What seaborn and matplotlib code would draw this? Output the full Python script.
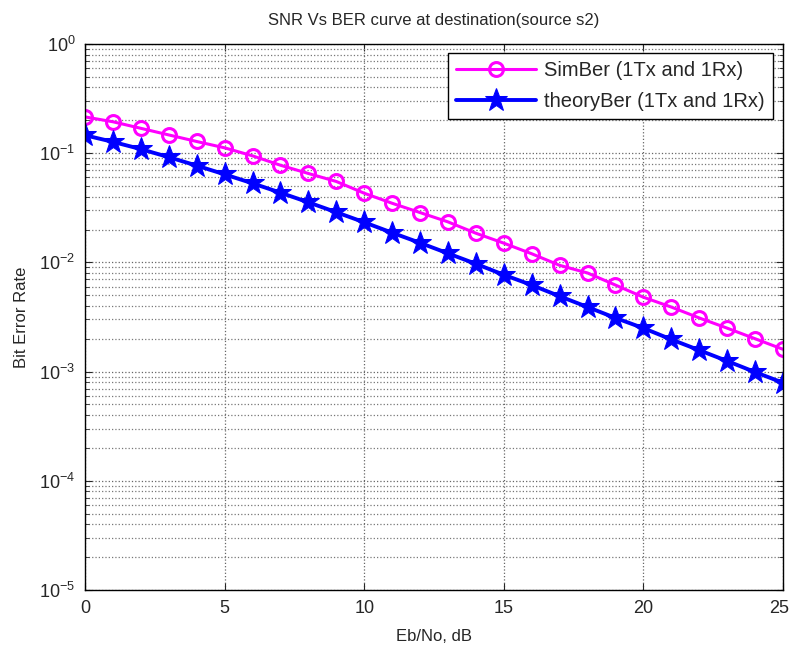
import numpy as np
import pandas as pd
import seaborn as sns
import matplotlib.pyplot as plt
from matplotlib.ticker import LogLocator, NullFormatter, MultipleLocator
from matplotlib.transforms import ScaledTranslation

snr_db = list(range(26))
sim_ber = [0.215, 0.194, 0.169, 0.147, 0.128, 0.112, 0.0946, 0.0776, 0.0652, 0.0551,
           0.0430, 0.0348, 0.0286, 0.0235, 0.0185, 0.0150, 0.0120, 0.0094, 0.0080, 0.0062,
           0.0048, 0.0039, 0.0031, 0.0025, 0.0020, 0.0016]
theory_ber = [0.146, 0.127, 0.109, 0.092, 0.077, 0.064, 0.053, 0.0435, 0.0355, 0.0288,
              0.0233, 0.0187, 0.0151, 0.0121, 0.0097, 0.0077, 0.0062, 0.0049, 0.0039, 0.0031,
              0.0025, 0.00197, 0.00157, 0.00125, 0.00099, 0.00079]
labels = ['SimBer (1Tx and 1Rx)', 'theoryBer (1Tx and 1Rx)']

sns.set_style('white')
plt.rcParams.update({
    'font.family': ['Liberation Sans', 'DejaVu Sans'],
    'font.size': 12,
    'mathtext.fontset': 'custom',
    'mathtext.rm': 'Liberation Sans',
    'mathtext.it': 'Liberation Sans',
    'axes.unicode_minus': False,
    'axes.edgecolor': 'black',
    'axes.linewidth': 1.0,
})

sim = pd.DataFrame({'snr': snr_db, 'ber': sim_ber})
theory = pd.DataFrame({'snr': snr_db, 'ber': theory_ber})

fig = plt.figure(figsize=(7.91, 6.48), dpi=100)
ax = fig.add_axes([85 / 791, 1 - 590 / 648, (783 - 85) / 791, (590 - 44) / 648])

sns.lineplot(data=sim, x='snr', y='ber', ax=ax, color='#ff00ff', lw=2.2,
             marker='o', markersize=10, markerfacecolor='none',
             markeredgecolor='#ff00ff', markeredgewidth=2.2, label=labels[0])
sns.lineplot(data=theory, x='snr', y='ber', ax=ax, color='#0000ff', lw=2.8,
             marker='*', markersize=17, markerfacecolor='#0000ff',
             markeredgecolor='#0000ff', label=labels[1])

ax.set_yscale('log')
ax.set_xlim(0, 25)
ax.set_ylim(1e-5, 1)
ax.set_xticks([0, 5, 10, 15, 20, 25])
ax.yaxis.set_major_locator(LogLocator(base=10, numticks=10))
ax.yaxis.set_minor_locator(LogLocator(base=10, subs=np.arange(2, 10), numticks=20))
ax.yaxis.set_minor_formatter(NullFormatter())

ax.grid(True, which='major', color='#666666', ls=':', lw=0.9)
ax.grid(True, which='minor', axis='y', color='#777777', ls=':', lw=0.9)
ax.tick_params(which='both', direction='in', top=True, right=True, bottom=True, left=True)
ax.tick_params(which='major', length=5, labelsize=13, pad=7)
ax.tick_params(which='minor', length=3)

# keep the last x label inside the figure, as in the reference it sits at the edge
last = ax.get_xticklabels()[-1]
last.set_horizontalalignment('right')
last.set_transform(last.get_transform() + ScaledTranslation(6 / 100, 0, fig.dpi_scale_trans))

ax.set_xlabel('Eb/No, dB', fontsize=12, labelpad=9)
ax.set_ylabel('Bit Error Rate', fontsize=12, labelpad=7)
ax.set_title('SNR Vs BER curve at destination(source s2)', fontsize=12, pad=14)

leg = ax.legend(loc='upper right', fontsize=14.5, frameon=True, fancybox=False,
                framealpha=1, edgecolor='black', borderpad=0.4, handlelength=4.0,
                handletextpad=0.4, labelspacing=0.6, borderaxespad=0,
                bbox_to_anchor=(0.9857, 0.9835))
leg.get_frame().set_linewidth(1.0)

fig.savefig('out.png', dpi=100)
